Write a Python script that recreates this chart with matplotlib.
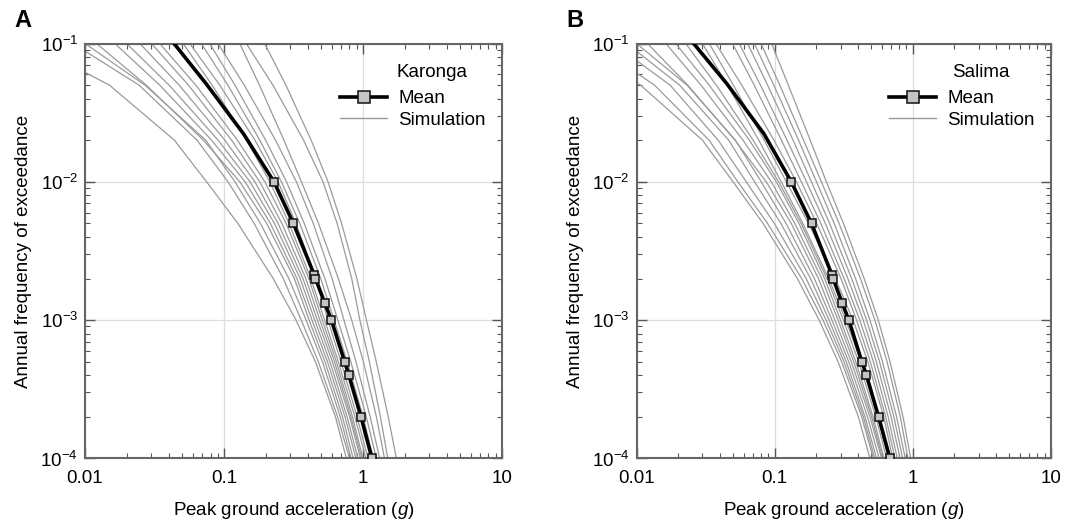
import matplotlib
matplotlib.use("Agg")
import matplotlib.pyplot as plt
from matplotlib.lines import Line2D
from matplotlib.ticker import FixedLocator, LogLocator, NullFormatter, FixedFormatter

plt.rcParams['font.family'] = ['Liberation Sans', 'DejaVu Sans']
plt.rcParams['mathtext.fontset'] = 'custom'
plt.rcParams['mathtext.rm'] = 'Liberation Sans'
plt.rcParams['mathtext.it'] = 'Liberation Sans:italic'

# exceedance levels at which each simulated curve was read
SIM_Y = [1e-1, 5e-2, 2e-2, 1e-2, 5e-3, 2e-3, 1e-3, 5e-4, 2e-4, 1e-4]

# PGA (g) of each simulation at the SIM_Y levels
KARONGA_SIM_X = [
    [0.0040, 0.0150, 0.044, 0.075, 0.126, 0.226, 0.33, 0.455, 0.634, 0.76],
    [0.0082, 0.0245, 0.064, 0.107, 0.165, 0.267, 0.36, 0.478, 0.657, 0.80],
    [0.0100, 0.027, 0.074, 0.120, 0.183, 0.293, 0.39, 0.511, 0.687, 0.82],
    [0.0121, 0.0276, 0.0711, 0.130, 0.203, 0.321, 0.41, 0.533, 0.713, 0.85],
    [0.0164, 0.0345, 0.0815, 0.142, 0.216, 0.335, 0.43, 0.556, 0.743, 0.89],
    [0.0199, 0.0403, 0.0908, 0.154, 0.231, 0.353, 0.45, 0.579, 0.769, 0.92],
    [0.0248, 0.0476, 0.1016, 0.167, 0.245, 0.370, 0.47, 0.603, 0.802, 0.96],
    [0.0301, 0.0555, 0.1135, 0.181, 0.261, 0.388, 0.49, 0.624, 0.820, 0.98],
    [0.0345, 0.0627, 0.125, 0.197, 0.280, 0.408, 0.51, 0.644, 0.841, 1.00],
    [0.0508, 0.0822, 0.1455, 0.214, 0.294, 0.422, 0.53, 0.665, 0.875, 1.05],
    [0.0567, 0.0933, 0.167, 0.245, 0.330, 0.458, 0.56, 0.695, 0.906, 1.09],
    [0.0687, 0.1067, 0.181, 0.259, 0.351, 0.497, 0.62, 0.771, 1.002, 1.19],
    [0.0789, 0.120, 0.1995, 0.282, 0.378, 0.532, 0.66, 0.818, 1.057, 1.25],
    [0.0906, 0.140, 0.235, 0.332, 0.439, 0.600, 0.73, 0.891, 1.127, 1.32],
    [0.1297, 0.180, 0.270, 0.361, 0.479, 0.665, 0.83, 1.007, 1.25, 1.43],
    [0.1446, 0.225, 0.374, 0.516, 0.652, 0.830, 0.95, 1.112, 1.336, 1.51],
    [0.196, 0.279, 0.424, 0.561, 0.702, 0.904, 1.06, 1.247, 1.521, 1.74],
]

SALIMA_SIM_X = [
    [0.0032, 0.0107, 0.030, 0.050, 0.0825, 0.146, 0.21, 0.288, 0.404, 0.49],
    [0.0048, 0.0135, 0.0335, 0.0542, 0.0889, 0.157, 0.224, 0.306, 0.427, 0.518],
    [0.0068, 0.0175, 0.039, 0.0623, 0.0995, 0.169, 0.236, 0.318, 0.439, 0.53],
    [0.0085, 0.0205, 0.0465, 0.0716, 0.111, 0.182, 0.248, 0.330, 0.451, 0.547],
    [0.0100, 0.0232, 0.052, 0.080, 0.121, 0.194, 0.26, 0.344, 0.470, 0.572],
    [0.0120, 0.0235, 0.0516, 0.0869, 0.132, 0.2075, 0.273, 0.359, 0.490, 0.595],
    [0.0163, 0.0293, 0.059, 0.0946, 0.140, 0.219, 0.288, 0.374, 0.504, 0.605],
    [0.0192, 0.0336, 0.0656, 0.1028, 0.150, 0.230, 0.30, 0.387, 0.516, 0.619],
    [0.0227, 0.0378, 0.0698, 0.107, 0.1556, 0.239, 0.315, 0.406, 0.541, 0.647],
    [0.0300, 0.0455, 0.0767, 0.1118, 0.160, 0.246, 0.328, 0.422, 0.560, 0.665],
    [0.0336, 0.0502, 0.084, 0.1216, 0.176, 0.275, 0.37, 0.473, 0.617, 0.716],
    [0.0375, 0.0578, 0.0989, 0.1437, 0.202, 0.302, 0.392, 0.493, 0.637, 0.744],
    [0.0495, 0.0711, 0.112, 0.156, 0.216, 0.318, 0.414, 0.519, 0.664, 0.773],
    [0.0554, 0.0789, 0.123, 0.170, 0.233, 0.339, 0.438, 0.545, 0.697, 0.809],
    [0.0637, 0.0889, 0.136, 0.1847, 0.250, 0.361, 0.463, 0.575, 0.730, 0.846],
    [0.0712, 0.0986, 0.149, 0.201, 0.270, 0.385, 0.49, 0.604, 0.764, 0.884],
    [0.0796, 0.109, 0.162, 0.218, 0.293, 0.418, 0.532, 0.652, 0.813, 0.924],
    [0.095, 0.1256, 0.181, 0.237, 0.315, 0.445, 0.563, 0.685, 0.851, 0.967],
]

# mean hazard curves; markers from index MARKER_START on
MEAN_Y = [1e-1, 5.13e-2, 2.23e-2, 1e-2, 5e-3, 2.105e-3, 2e-3, 1.333e-3,
          1e-3, 5e-4, 4.04e-4, 2e-4, 1e-4]
KARONGA_MEAN_X = [0.0437, 0.0743, 0.138, 0.229, 0.316, 0.448, 0.455, 0.531,
                  0.593, 0.739, 0.789, 0.968, 1.161]
SALIMA_MEAN_X = [0.0259, 0.045, 0.0835, 0.132, 0.185, 0.261, 0.265, 0.308,
                 0.345, 0.428, 0.461, 0.566, 0.684]
MARKER_START = 3

X_TICKS = [0.01, 0.1, 1, 10]
X_TICK_LABELS = ['0.01', '0.1', '1', '10']
Y_TICKS = [1e-4, 1e-3, 1e-2, 1e-1]
Y_TICK_LABELS = ['$10^{-4}$', '$10^{-3}$', '$10^{-2}$', '$10^{-1}$']

SIM_COLOR = '#9a9a9a'
FS = 13.5


def draw_panel(ax, sims, mean_x, site, letter):
    for xs in sims:
        ax.plot(xs, SIM_Y, color=SIM_COLOR, lw=0.9, zorder=2)
    ax.plot(mean_x, MEAN_Y, color='black', lw=2.6, zorder=3,
            marker='s', ms=6, mfc='#c4c4c4', mec='#111111', mew=1.1,
            markevery=list(range(MARKER_START, len(MEAN_Y))))

    ax.set_xscale('log')
    ax.set_yscale('log')
    ax.set_xlim(0.01, 10)
    ax.set_ylim(1e-4, 1e-1)

    ax.xaxis.set_major_locator(FixedLocator(X_TICKS))
    ax.xaxis.set_major_formatter(FixedFormatter(X_TICK_LABELS))
    ax.yaxis.set_major_locator(FixedLocator(Y_TICKS))
    ax.yaxis.set_major_formatter(FixedFormatter(Y_TICK_LABELS))
    for axis in (ax.xaxis, ax.yaxis):
        axis.set_minor_locator(LogLocator(base=10, subs=range(2, 10)))
        axis.set_minor_formatter(NullFormatter())

    ax.tick_params(which='both', direction='in', top=True, right=True,
                   color='#555555', labelsize=FS)
    ax.tick_params(which='major', length=7, width=1)
    ax.tick_params(which='minor', length=3.5, width=0.8)
    ax.tick_params(axis='x', pad=8)
    ax.tick_params(axis='y', pad=5)

    ax.grid(True, which='major', color='#dedede', lw=0.9)
    ax.set_axisbelow(True)
    for sp in ax.spines.values():
        sp.set_color('#666666')
        sp.set_linewidth(1.5)

    ax.set_xlabel('Peak ground acceleration ($\\it{g}$)', fontsize=FS, labelpad=10)
    ax.set_ylabel('Annual frequency of exceedance', fontsize=FS, labelpad=6)

    handles = [
        Line2D([], [], color='black', lw=2.6, marker='s', ms=8,
               mfc='#c4c4c4', mec='#111111', mew=1.1),
        Line2D([], [], color=SIM_COLOR, lw=1),
    ]
    ax.legend(handles, ['Mean', 'Simulation'], loc='upper right',
              bbox_to_anchor=(0.962, 0.888), borderaxespad=0, borderpad=0,
              frameon=False, fontsize=FS, handlelength=2.5,
              handletextpad=0.6, labelspacing=0.25)
    ax.text(0.832, 0.931, site, transform=ax.transAxes, fontsize=FS,
            ha='center', va='center')
    ax.text(-0.17, 1.055, letter, transform=ax.transAxes, fontsize=17,
            fontweight='bold', ha='left', va='center')


fig = plt.figure(figsize=(10.65, 5.21), dpi=100)
ax_a = fig.add_axes([0.0798, 0.12, 0.3915, 0.7965])
ax_b = fig.add_axes([0.5977, 0.12, 0.389, 0.7965])

draw_panel(ax_a, KARONGA_SIM_X, KARONGA_MEAN_X, 'Karonga', 'A')
draw_panel(ax_b, SALIMA_SIM_X, SALIMA_MEAN_X, 'Salima', 'B')

fig.savefig('out.png', dpi=100)
